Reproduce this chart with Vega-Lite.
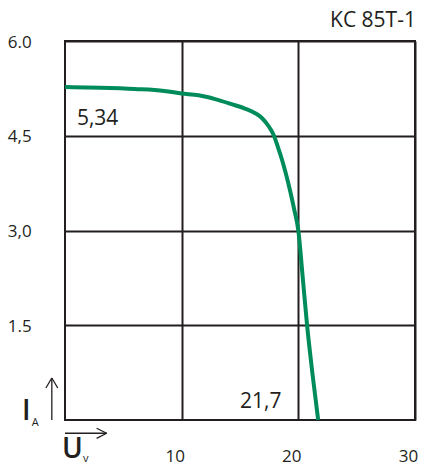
{
  "$schema": "https://vega.github.io/schema/vega-lite/v6.json",
  "width": 350,
  "height": 379,
  "autosize": {"type": "none"},
  "padding": {"left": 65, "top": 41, "right": 9, "bottom": 45},
  "background": "white",
  "config": {
    "font": "Open Sans",
    "view": {"stroke": "#231f20", "strokeWidth": 2},
    "text": {"color": "#231f20", "font": "Open Sans"}
  },
  "datasets": {
    "curve": [
      {"u": 0, "i": 5.27},
      {"u": 3, "i": 5.26},
      {"u": 6, "i": 5.24},
      {"u": 8.5, "i": 5.21},
      {"u": 10, "i": 5.17},
      {"u": 11.45, "i": 5.14},
      {"u": 12.87, "i": 5.08},
      {"u": 14.28, "i": 5.0},
      {"u": 15.42, "i": 4.93},
      {"u": 16.27, "i": 4.86},
      {"u": 16.83, "i": 4.79},
      {"u": 17.26, "i": 4.7},
      {"u": 17.63, "i": 4.6},
      {"u": 17.91, "i": 4.5},
      {"u": 18.25, "i": 4.32},
      {"u": 18.6, "i": 4.12},
      {"u": 19.28, "i": 3.64},
      {"u": 19.65, "i": 3.33},
      {"u": 20.0, "i": 3.0},
      {"u": 20.38, "i": 2.25},
      {"u": 20.75, "i": 1.5},
      {"u": 21.2, "i": 0.75},
      {"u": 21.7, "i": 0}
    ],
    "heading": [
      {"u": 30.08, "i": 6.226, "label": "KC 85T-1"}
    ],
    "notes": [
      {"u": 1.02, "i": 4.67, "label": "5,34"},
      {"u": 15.0, "i": 0.185, "label": "21,7"}
    ],
    "symbols": [
      {"u": -3.68, "i": 0, "label": "I"},
      {"u": -0.26, "i": -0.6, "label": "U"}
    ],
    "subs": [
      {"u": -2.85, "i": -0.095, "label": "A"},
      {"u": 1.54, "i": -0.66, "label": "v"}
    ],
    "arrows": [
      {"u": -1.13, "i": 0, "u2": -1.13, "i2": 0.665},
      {"u": -1.13, "i": 0.665, "u2": -1.64, "i2": 0.507},
      {"u": -1.13, "i": 0.665, "u2": -0.62, "i2": 0.507},
      {"u": 0, "i": -0.21, "u2": 3.57, "i2": -0.21},
      {"u": 3.57, "i": -0.21, "u2": 2.71, "i2": -0.13},
      {"u": 3.57, "i": -0.21, "u2": 2.71, "i2": -0.29}
    ]
  },
  "encoding": {
    "x": {
      "field": "u",
      "type": "quantitative",
      "scale": {"domain": [0, 30], "nice": false, "zero": false},
      "axis": {
        "values": [10, 20, 30],
        "title": null,
        "grid": true,
        "gridColor": "#231f20",
        "gridWidth": 2,
        "gridOpacity": 1,
        "domain": false,
        "ticks": false,
        "tickSize": 0,
        "labelFont": "Open Sans",
        "labelFontSize": 17,
        "labelFontWeight": 500,
        "labelColor": "#231f20",
        "labelBaseline": "alphabetic",
        "labelPadding": 41,
        "labelOffset": -7,
        "labelFlush": false,
        "labelOverlap": false
      }
    },
    "y": {
      "field": "i",
      "type": "quantitative",
      "scale": {"domain": [0, 6], "nice": false, "zero": false},
      "axis": {
        "values": [1.5, 3, 4.5, 6],
        "labelExpr": "datum.value == 6 ? '6.0' : datum.value == 4.5 ? '4,5' : datum.value == 3 ? '3,0' : '1.5'",
        "title": null,
        "grid": true,
        "gridColor": "#231f20",
        "gridWidth": 2,
        "gridOpacity": 1,
        "domain": false,
        "ticks": false,
        "tickSize": 0,
        "labelFont": "Open Sans",
        "labelFontSize": 17,
        "labelFontWeight": 500,
        "labelColor": "#231f20",
        "labelAlign": "left",
        "labelBaseline": "middle",
        "labelPadding": 57.7,
        "labelOffset": 1,
        "labelFlush": false,
        "labelOverlap": false
      }
    }
  },
  "layer": [
    {
      "data": {"name": "curve"},
      "mark": {"type": "line", "color": "#008c5a", "strokeWidth": 4, "interpolate": "monotone", "clip": false}
    },
    {
      "data": {"name": "heading"},
      "mark": {"type": "text", "fontSize": 21, "fontWeight": 500, "align": "right", "baseline": "alphabetic", "color": "#231f20"},
      "encoding": {"text": {"field": "label"}}
    },
    {
      "data": {"name": "notes"},
      "mark": {"type": "text", "fontSize": 21, "fontWeight": 500, "align": "left", "baseline": "alphabetic", "color": "#231f20"},
      "encoding": {"text": {"field": "label"}}
    },
    {
      "data": {"name": "symbols"},
      "mark": {"type": "text", "fontSize": 28, "fontWeight": 600, "align": "left", "baseline": "alphabetic", "color": "#231f20"},
      "encoding": {"text": {"field": "label"}}
    },
    {
      "data": {"name": "subs"},
      "mark": {"type": "text", "fontSize": 11, "align": "left", "baseline": "alphabetic", "color": "#231f20"},
      "encoding": {"text": {"field": "label"}}
    },
    {
      "data": {"name": "arrows"},
      "mark": {"type": "rule", "color": "#231f20", "strokeWidth": 1.3},
      "encoding": {
        "x2": {"field": "u2"},
        "y2": {"field": "i2"}
      }
    }
  ]
}
